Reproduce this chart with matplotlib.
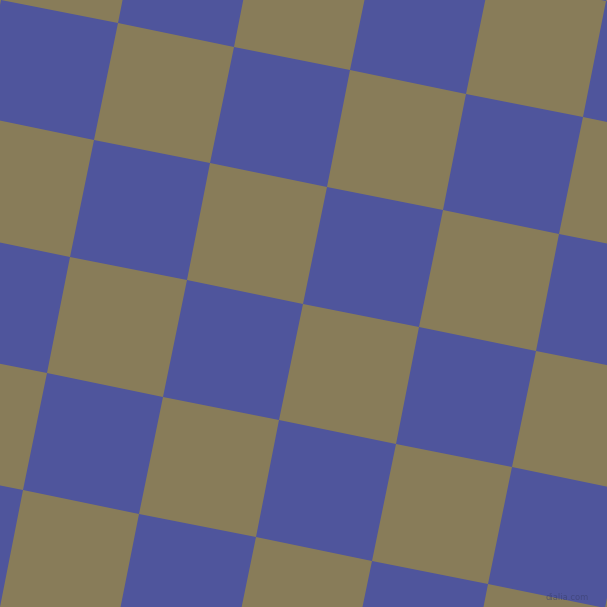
import numpy as np
import matplotlib
matplotlib.use("Agg")
import matplotlib.pyplot as plt
from matplotlib.colors import ListedColormap

# checkerboard description
colors = ["#887c59", "#4f559c"]          # olive, blue
origin = [117.5, 23.2]                    # a lattice corner (pixels)
u_step = [116.3, 23.5]                    # one cell along rows
v_step = [-23.6, 116.7]                   # one cell along columns
i_range = list(range(-3, 8))
j_range = list(range(-3, 8))
watermark = "dialia.com"

I, J = np.meshgrid(np.array(i_range + [i_range[-1] + 1]),
                   np.array(j_range + [j_range[-1] + 1]))
X = origin[0] + I * u_step[0] + J * v_step[0]
Y = origin[1] + I * u_step[1] + J * v_step[1]
ci, cj = np.meshgrid(np.array(i_range), np.array(j_range))
C = (ci + cj) % 2
C = np.ma.masked_where(C == 0, C)

fig = plt.figure(figsize=(6.07, 6.07), dpi=100)
fig.patch.set_facecolor(colors[0])
ax = fig.add_axes([0, 0, 1, 1])
ax.set_facecolor(colors[0])
ax.pcolormesh(X, Y, C, cmap=ListedColormap([colors[1]]), vmin=0.5, vmax=1.5,
              shading="flat", antialiased=True, edgecolors="none")
ax.set_xlim(0, 607)
ax.set_ylim(607, 0)
for s in ax.spines.values():
    s.set_visible(False)
ax.set_xticks([])
ax.set_yticks([])
ax.text(589, 597, watermark, fontsize=6, color="#3a3f6e", alpha=0.6,
        ha="right", va="center")
fig.savefig("out.png", dpi=100, facecolor=colors[0])
